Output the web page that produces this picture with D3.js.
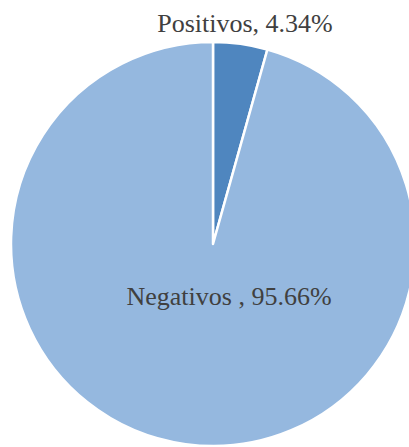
<!DOCTYPE html>
<html lang="es">
<head>
<meta charset="UTF-8">
<title>Positivos / Negativos</title>
<script src="https://cdn.jsdelivr.net/npm/d3@7"></script>
<style>
  html, body { margin: 0; padding: 0; background: #fff; overflow: hidden; }
  svg { display: block; }
</style>
</head>
<body>
<svg id="chart"></svg>
<script>
const categories = ['Positivos', 'Negativos'];
const values = [4.34, 95.66];
const labels = ['Positivos, 4.34%', 'Negativos , 95.66%'];
const colors = ['#4F86BF', '#95B8DF'];

const W = 409, H = 447;
const cx = 213, cy = 244, radius = 202;
// label anchors relative to pie centre (Excel "best fit" placement)
const labelPos = [[32, -212], [16, 61]];

const svg = d3.select('#chart').attr('width', W).attr('height', H);
const g = svg.append('g').attr('transform', `translate(${cx},${cy})`);

const data = categories.map((c, i) => ({ name: c, value: values[i], label: labels[i], color: colors[i], pos: labelPos[i] }));

const pie = d3.pie().sort(null).value(d => d.value);
const arc = d3.arc().innerRadius(0).outerRadius(radius);

g.selectAll('path')
  .data(pie(data))
  .enter().append('path')
  .attr('d', arc)
  .attr('fill', d => d.data.color)
  .attr('stroke', '#fff')
  .attr('stroke-width', 2.5)
  .attr('stroke-linejoin', 'round');

g.selectAll('text.lbl')
  .data(data)
  .enter().append('text')
  .attr('class', 'lbl')
  .attr('x', d => d.pos[0])
  .attr('y', d => d.pos[1])
  .attr('text-anchor', 'middle')
  .style('font-family', '"Liberation Serif", "Times New Roman", serif')
  .style('font-size', '26px')
  .style('fill', '#404040')
  .text(d => d.label);
</script>
</body>
</html>
